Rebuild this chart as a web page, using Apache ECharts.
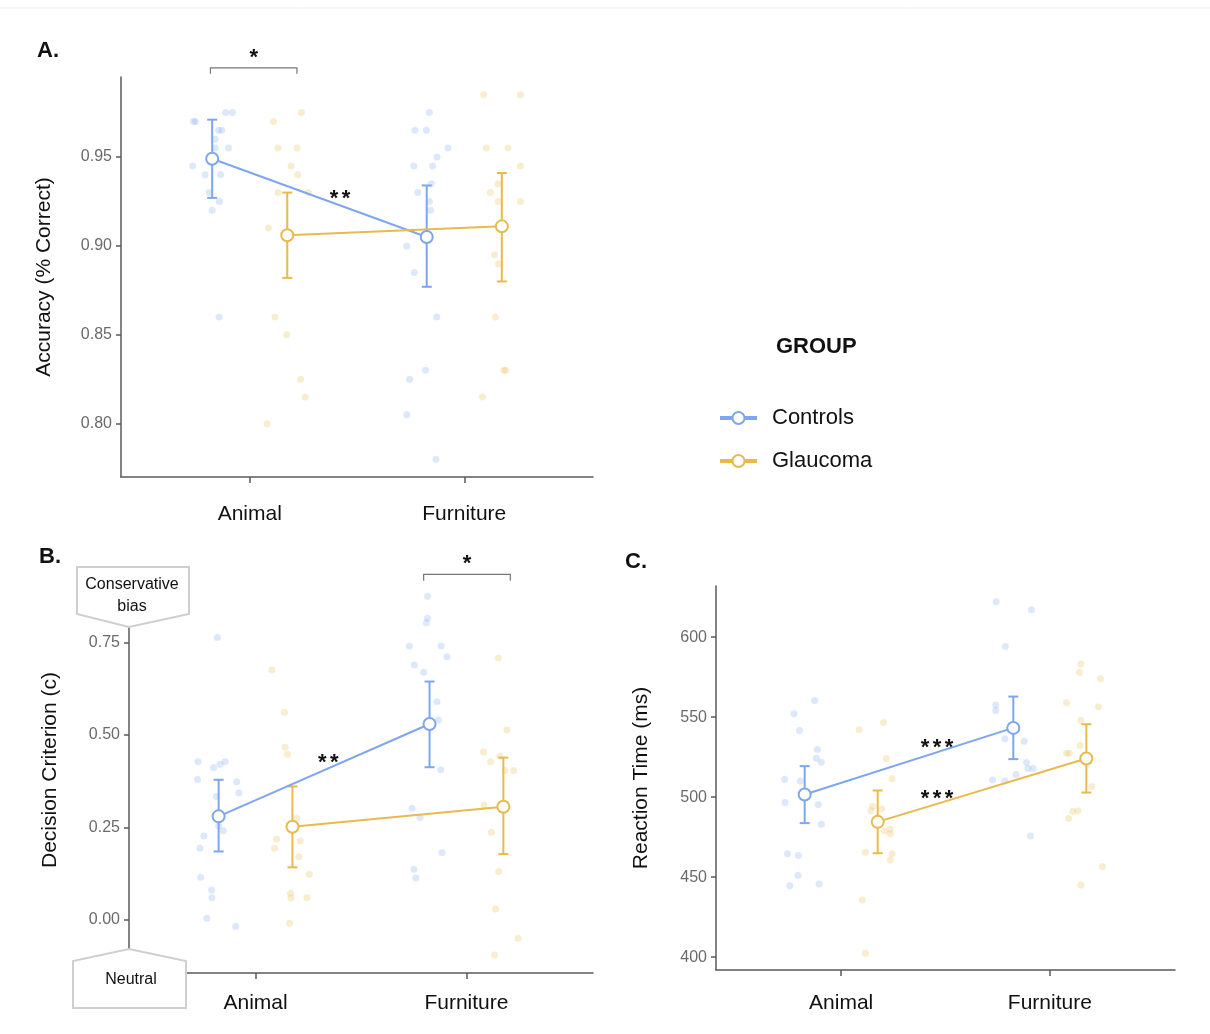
<!DOCTYPE html>
<html><head><meta charset="utf-8">
<script src="https://cdn.jsdelivr.net/npm/echarts@6/dist/echarts.min.js"></script>
<style>html,body{margin:0;padding:0;background:#fff}#c{width:1210px;height:1034px}</style>
</head><body><div id="c"></div>
<script>
// ---------------- DATA ----------------
const categories = ['Animal', 'Furniture'];
const groups = ['Controls', 'Glaucoma'];

// Panel A: Accuracy
const accTicks = [0.80, 0.85, 0.90, 0.95];
const accCtrlMean = [0.949, 0.905];
const accCtrlLow  = [0.927, 0.877];
const accCtrlHigh = [0.971, 0.934];
const accGlauMean = [0.906, 0.911];
const accGlauLow  = [0.882, 0.880];
const accGlauHigh = [0.930, 0.941];
const accCtrlPts = [
  [0.738,0.970],[0.747,0.970],[0.888,0.975],[0.919,0.975],[0.855,0.965],[0.870,0.965],[0.839,0.960],
  [0.839,0.955],[0.901,0.955],[0.734,0.945],[0.792,0.940],[0.864,0.940],[0.810,0.930],[0.859,0.925],
  [0.825,0.920],[0.857,0.860],
  [1.837,0.975],[1.770,0.965],[1.823,0.965],[1.924,0.955],[1.873,0.950],[1.765,0.945],[1.852,0.945],
  [1.846,0.935],[1.783,0.930],[1.837,0.925],[1.843,0.920],[1.732,0.900],[1.767,0.885],[1.872,0.860],
  [1.819,0.830],[1.745,0.825],[1.732,0.805],[1.868,0.780]
];
const accGlauPts = [
  [1.110,0.970],[1.241,0.975],[1.132,0.955],[1.221,0.955],[1.193,0.945],[1.224,0.940],[1.132,0.930],
  [1.273,0.930],[1.087,0.910],[1.118,0.860],[1.172,0.850],[1.237,0.825],[1.259,0.815],[1.081,0.800],
  [2.090,0.985],[2.262,0.985],[2.103,0.955],[2.204,0.955],[2.262,0.945],[2.157,0.935],[2.121,0.930],
  [2.159,0.925],[2.262,0.925],[2.141,0.895],[2.159,0.890],[2.145,0.860],[2.184,0.830],[2.193,0.830],
  [2.085,0.815]
];

// Panel B: Decision criterion
const critTicks = [0.00, 0.25, 0.50, 0.75];
const critCtrlMean = [0.280, 0.530];
const critCtrlLow  = [0.185, 0.413];
const critCtrlHigh = [0.379, 0.645];
const critGlauMean = [0.252, 0.306];
const critGlauLow  = [0.142, 0.178];
const critGlauHigh = [0.361, 0.439];
const critCtrlPts = [
  [0.819,0.764],[0.727,0.428],[0.725,0.380],[0.801,0.412],[0.832,0.421],[0.856,0.428],[0.911,0.374],
  [0.921,0.343],[0.814,0.334],[0.825,0.254],[0.847,0.241],[0.755,0.227],[0.736,0.194],[0.740,0.115],
  [0.792,0.081],[0.793,0.060],[0.769,0.004],[0.906,-0.018],
  [1.815,0.876],[1.815,0.816],[1.810,0.804],[1.729,0.741],[1.880,0.741],[1.908,0.712],[1.753,0.690],
  [1.797,0.670],[1.860,0.590],[1.867,0.541],[1.878,0.406],[1.742,0.302],[1.780,0.277],[1.884,0.182],
  [1.751,0.137],[1.760,0.113]
];
const critGlauPts = [
  [1.077,0.676],[1.137,0.562],[1.140,0.467],[1.151,0.448],[1.196,0.275],[1.100,0.218],[1.212,0.213],
  [1.090,0.194],[1.205,0.171],[1.255,0.123],[1.166,0.072],[1.168,0.059],[1.244,0.060],[1.161,-0.009],
  [2.151,0.709],[2.192,0.514],[2.081,0.454],[2.114,0.428],[2.159,0.443],[2.183,0.404],[2.223,0.404],
  [2.083,0.311],[2.118,0.237],[2.153,0.131],[2.138,0.029],[2.245,-0.050],[2.133,-0.095]
];

// Panel C: Reaction time
const rtTicks = [400, 450, 500, 550, 600];
const rtCtrlMean = [501.7, 543.3];
const rtCtrlLow  = [483.8, 523.8];
const rtCtrlHigh = [519.4, 562.9];
const rtGlauMean = [484.6, 524.2];
const rtGlauLow  = [465.0, 502.9];
const rtGlauHigh = [504.2, 545.6];
const rtCtrlPts = [
  [0.873,560.4],[0.774,552.1],[0.800,541.7],[0.886,529.8],[0.881,524.4],[0.905,521.9],[0.729,511.0],
  [0.804,510.2],[0.731,496.7],[0.890,495.4],[0.905,483.1],[0.743,464.6],[0.795,463.5],[0.793,451.0],
  [0.754,444.6],[0.894,445.8],
  [1.743,622.1],[1.912,617.1],[1.787,594.2],[1.741,557.7],[1.741,554.2],[1.785,536.5],[1.877,535.0],
  [1.888,521.7],[1.895,517.9],[1.920,517.9],[1.838,514.2],[1.726,510.8],[1.785,510.2],[1.907,475.8]
];
const rtGlauPts = [
  [1.086,542.1],[1.203,546.7],[1.216,524.0],[1.244,511.5],[1.151,494.2],[1.194,492.7],[1.142,491.5],
  [1.207,479.0],[1.235,477.1],[1.235,480.0],[1.116,465.6],[1.244,464.6],[1.235,460.8],[1.101,435.8],
  [1.116,402.5],
  [2.149,583.3],[2.142,578.1],[2.243,574.0],[2.080,559.0],[2.233,556.5],[2.149,547.9],[2.080,527.5],
  [2.093,527.5],[2.146,532.3],[2.201,506.7],[2.110,491.0],[2.134,491.5],[2.090,486.7],[2.252,456.7],
  [2.149,445.2]
];

// Annotations (x in category units, y in data units)
const accBracket = [[0.817, 1.22, 1.0001, 0.9968, '*']];
const accNotes = [[1.421, 0.930, '**']];
const critBracket = [[1.797, 2.208, 0.935, 0.918, '*']];
const critNotes = [[1.345, 0.442, '**']];
const rtNotes = [[1.459, 534.8, '***'], [1.459, 502.5, '***']];

// ---------------- STYLE ----------------
const FONT = '"Liberation Sans", Arial, sans-serif';
const BLUE = '#7ea6ee', GOLD = '#e8ba4d';
const BLUE_PT = 'rgba(126,166,238,0.33)', GOLD_PT = 'rgba(232,186,77,0.33)';
const DODGE = 0.175;
const AXC = '#5a5a5a';

const panels = [
  { grid: {left:121, top:77, width:472, height:400}, min:0.770, max:0.995, ticks:accTicks, dec:2,
    name:'Accuracy (% Correct)', nameGap:66, labelMargin:27,
    ctrl:[accCtrlMean, accCtrlLow, accCtrlHigh, accCtrlPts], glau:[accGlauMean, accGlauLow, accGlauHigh, accGlauPts],
    brackets: accBracket, notes: accNotes },
  { grid: {left:129, top:567, width:464, height:406}, min:-0.144, max:0.955, ticks:critTicks, dec:2,
    name:'Decision Criterion (c)', nameGap:68, labelMargin:20,
    ctrl:[critCtrlMean, critCtrlLow, critCtrlHigh, critCtrlPts], glau:[critGlauMean, critGlauLow, critGlauHigh, critGlauPts],
    brackets: critBracket, notes: critNotes },
  { grid: {left:716, top:586, width:459, height:384}, min:392, max:632, ticks:rtTicks, dec:0,
    name:'Reaction Time (ms)', nameGap:64, labelMargin:23,
    ctrl:[rtCtrlMean, rtCtrlLow, rtCtrlHigh, rtCtrlPts], glau:[rtGlauMean, rtGlauLow, rtGlauHigh, rtGlauPts],
    brackets: [], notes: rtNotes }
];

const grids = [], xAxes = [], yAxes = [], lineSeries = [], otherSeries = [];

function errSeries(idx, xs, lo, hi, color) {
  return { type:'custom', name: 'err', xAxisIndex:idx, yAxisIndex:idx, z:3, silent:true, clip:false,
    data: xs.map((x,i)=>[x, lo[i], hi[i]]),
    encode:{x:0, y:[1,2]},
    renderItem:(p, api) => {
      const a = api.coord([api.value(0), api.value(2)]), b = api.coord([api.value(0), api.value(1)]);
      const w = 5, st = {stroke:color, lineWidth:2};
      return {type:'group', children:[
        {type:'line', shape:{x1:a[0], y1:a[1], x2:b[0], y2:b[1]}, style:st},
        {type:'line', shape:{x1:a[0]-w, y1:a[1], x2:a[0]+w, y2:a[1]}, style:st},
        {type:'line', shape:{x1:b[0]-w, y1:b[1], x2:b[0]+w, y2:b[1]}, style:st}
      ]};
    }};
}

function starText(str, x, y) {
  // draws each asterisk as its own text, centred on (x, y)
  const n = str.length, sp = 12;
  return str.split('').map((ch, k) => ({type:'text', x: x + (k - (n - 1) / 2) * sp, y: y,
    style:{text:ch, fontSize:22, fontWeight:'bold', fontFamily:FONT, fill:'#111', align:'center', verticalAlign:'middle'}}));
}

panels.forEach((P, i) => {
  grids.push(P.grid);
  xAxes.push({ gridIndex:i, type:'value', min:0.4, max:2.6,
    axisLine:{show:true, onZero:false, lineStyle:{color:AXC, width:1.5}},
    axisTick:{show:true, customValues:[1,2], length:6, lineStyle:{color:AXC, width:1.5}},
    axisLabel:{customValues:[1,2], formatter:v => categories[Math.round(v)-1], fontSize:21, color:'#111',
      fontFamily:FONT, margin:P.labelMargin},
    splitLine:{show:false} });
  yAxes.push({ gridIndex:i, type:'value', min:P.min, max:P.max,
    axisLine:{show:true, onZero:false, lineStyle:{color:AXC, width:1.5}},
    axisTick:{show:true, customValues:P.ticks, length:5, lineStyle:{color:AXC, width:1.5}},
    axisLabel:{customValues:P.ticks, formatter:v => Number(v).toFixed(P.dec), fontSize:16, color:'#6a6a6a',
      fontFamily:FONT, margin:9},
    splitLine:{show:false},
    name:P.name, nameLocation:'middle', nameGap:P.nameGap,
    nameTextStyle:{fontSize:21, color:'#111', fontFamily:FONT} });

  [[P.ctrl, BLUE, BLUE_PT, -DODGE, groups[0]], [P.glau, GOLD, GOLD_PT, DODGE, groups[1]]].forEach(([g, col, ptCol, dd, nm]) => {
    const xs = categories.map((c, k) => k + 1 + dd);
    otherSeries.push({ type:'scatter', name: nm + ' points', xAxisIndex:i, yAxisIndex:i, z:1, silent:true,
      symbolSize:7, itemStyle:{color:ptCol}, data:g[3] });
    otherSeries.push(errSeries(i, xs, g[1], g[2], col));
    lineSeries.push({ type:'line', name:nm, xAxisIndex:i, yAxisIndex:i, z:5, silent:true,
      symbol:'emptyCircle', symbolSize:12, showSymbol:true,
      itemStyle:{color:col, borderWidth:1.5}, lineStyle:{color:col, width:2},
      data: xs.map((x,k)=>[x, g[0][k]]) });
  });

  if (P.brackets.length) {
    otherSeries.push({ type:'custom', name:'bracket', xAxisIndex:i, yAxisIndex:i, z:6, silent:true, clip:false,
      data:P.brackets.map(b=>[b[0], b[1], b[2], b[3]]),
      renderItem:(p, api) => {
        const a = api.coord([api.value(0), api.value(3)]), b = api.coord([api.value(0), api.value(2)]);
        const c = api.coord([api.value(1), api.value(2)]), d = api.coord([api.value(1), api.value(3)]);
        const mid = (b[0] + c[0]) / 2;
        return {type:'group', children:[
          {type:'polyline', shape:{points:[a, b, c, d]}, style:{stroke:'#777', lineWidth:1.2, fill:null}}
        ].concat(starText(P.brackets[p.dataIndex][4], mid, b[1] - 10))};
      }});
  }
  otherSeries.push({ type:'custom', name:'notes', xAxisIndex:i, yAxisIndex:i, z:6, silent:true, clip:false,
    data:P.notes.map(n=>[n[0], n[1]]),
    renderItem:(p, api) => {
      const a = api.coord([api.value(0), api.value(1)]);
      return {type:'group', children: starText(P.notes[p.dataIndex][2], a[0], a[1] + 6)};
    }});
});

// Bias boxes in panel B, anchored to the axis corners
otherSeries.push({ type:'custom', name:'consBox', xAxisIndex:1, yAxisIndex:1, z:10, silent:true, clip:false,
  data:[[0.4, panels[1].max]],
  renderItem:(p, api) => {
    const a = api.coord([api.value(0), api.value(1)]);
    const x = a[0], y = a[1];
    return {type:'group', children:[
      {type:'polygon', shape:{points:[[x-52,y],[x+60,y],[x+60,y+47],[x,y+60],[x-52,y+47]]},
        style:{fill:'#fff', stroke:'#cfcfcf', lineWidth:2}},
      {type:'text', x:x+3, y:y+18, style:{text:'Conservative', fontSize:16, fontFamily:FONT, fill:'#111', align:'center', verticalAlign:'middle'}},
      {type:'text', x:x+3, y:y+40, style:{text:'bias', fontSize:16, fontFamily:FONT, fill:'#111', align:'center', verticalAlign:'middle'}}
    ]};
  }});
otherSeries.push({ type:'custom', name:'neutBox', xAxisIndex:1, yAxisIndex:1, z:10, silent:true, clip:false,
  data:[[0.4, panels[1].min]],
  renderItem:(p, api) => {
    const a = api.coord([api.value(0), api.value(1)]);
    const x = a[0], y = a[1];
    return {type:'group', children:[
      {type:'polygon', shape:{points:[[x,y-24],[x+57,y-12],[x+57,y+35],[x-56,y+35],[x-56,y-12]]},
        style:{fill:'#fff', stroke:'#cfcfcf', lineWidth:2}},
      {type:'text', x:x+2, y:y+7, style:{text:'Neutral', fontSize:16, fontFamily:FONT, fill:'#111', align:'center', verticalAlign:'middle'}}
    ]};
  }});

const chart = echarts.init(document.getElementById('c'), null, {renderer:'canvas'});
chart.setOption({
  animation:false,
  backgroundColor:'#fff',
  grid:grids, xAxis:xAxes, yAxis:yAxes,
  legend:{ data:groups, orient:'vertical', left:713, top:402, itemGap:21, itemWidth:37, itemHeight:15,
    lineStyle:{width:4}, itemStyle:{borderWidth:2},
    textStyle:{fontSize:22, color:'#111', fontFamily:FONT, padding:[0,0,0,10]}, selectedMode:false },
  graphic:[
    {type:'line', shape:{x1:0, y1:8, x2:1210, y2:8}, style:{stroke:'#ececec', lineWidth:1}},
    {type:'text', left:37, top:40, style:{text:'A.', fontSize:22, fontWeight:'bold', fontFamily:FONT, fill:'#111'}},
    {type:'text', left:39, top:546, style:{text:'B.', fontSize:22, fontWeight:'bold', fontFamily:FONT, fill:'#111'}},
    {type:'text', left:625, top:551, style:{text:'C.', fontSize:22, fontWeight:'bold', fontFamily:FONT, fill:'#111'}},
    {type:'text', left:776, top:336, style:{text:'GROUP', fontSize:22, fontWeight:'bold', fontFamily:FONT, fill:'#111'}}
  ],
  series: lineSeries.concat(otherSeries)
});
</script></body></html>
